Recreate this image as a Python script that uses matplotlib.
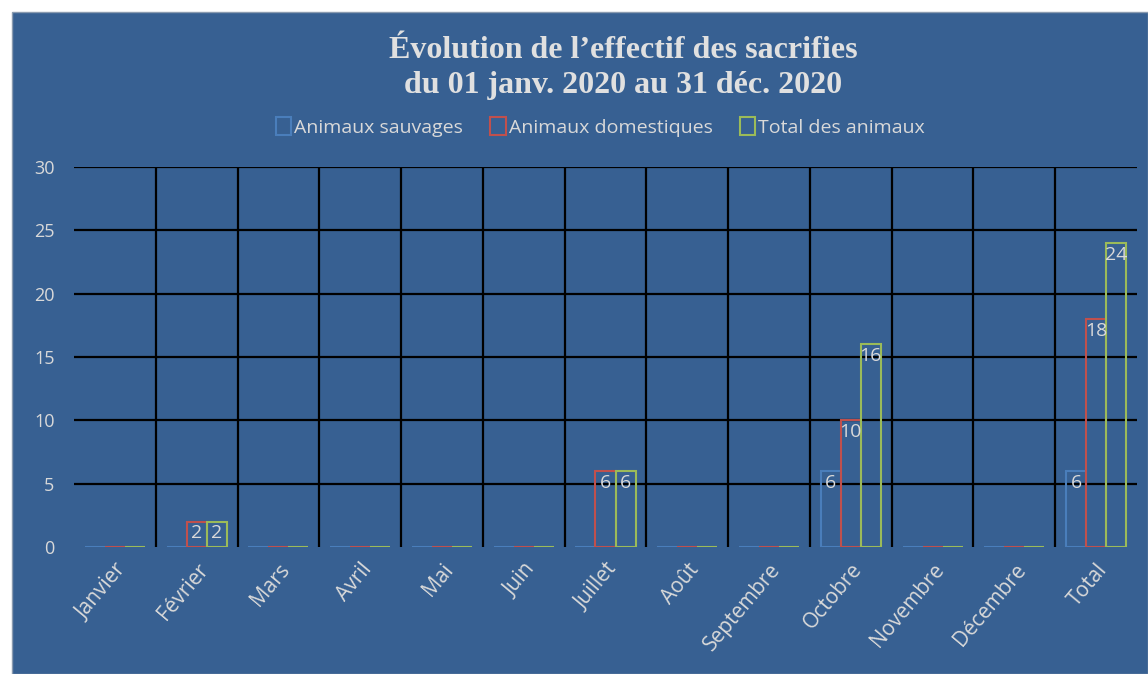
import matplotlib
matplotlib.use("Agg")
import numpy as np
from matplotlib import pyplot as plt
from matplotlib.patches import Patch, Rectangle

# Data
mois = ["Janvier", "Février", "Mars", "Avril", "Mai", "Juin", "Juillet",
        "Août", "Septembre", "Octobre", "Novembre", "Décembre", "Total"]
sauvages = [0, 0, 0, 0, 0, 0, 0, 0, 0, 6, 0, 0, 6]
domestiques = [0, 2, 0, 0, 0, 0, 6, 0, 0, 10, 0, 0, 18]
total = [0, 2, 0, 0, 0, 0, 6, 0, 0, 16, 0, 0, 24]
series_names = ["Animaux sauvages", "Animaux domestiques", "Total des animaux"]

bg = "#376092"
txt = "#d9d9d9"
colors = ["#4a7ebb", "#c0504d", "#9bbb59"]

fig = plt.figure(figsize=(11.48, 6.74), dpi=100, facecolor="white")
# blue chart area with small white margin top/left
fig.add_artist(Rectangle((12 / 1148, 0), 1 - 12 / 1148, 1 - 12 / 674,
                         transform=fig.transFigure, facecolor=bg,
                         edgecolor="#8a9bb0", linewidth=1, zorder=0))

ax = fig.add_axes([74 / 1148, 1 - 547 / 674, (1137 - 74) / 1148, (547 - 167) / 674])
ax.set_facecolor("none")

x = np.arange(len(mois))
w = 0.245
for i, (vals, c) in enumerate(zip([sauvages, domestiques, total], colors)):
    pos = x + (i - 1) * w
    bars = ax.bar(pos, vals, width=w, facecolor="none", edgecolor=c, linewidth=1.5, zorder=3)
    for b, v in zip(bars, vals):
        if v > 0:
            ax.annotate(str(v), (b.get_x() + b.get_width() / 2, v), xytext=(0, -2),
                        textcoords="offset points", ha="center", va="top",
                        color=txt, fontsize=14, family="Open Sans", zorder=4)

ax.set_xlim(-0.5, len(mois) - 0.5)
ax.set_ylim(0, 30)
ax.set_yticks(range(0, 31, 5))
for yv in range(5, 31, 5):
    ax.axhline(yv, color="black", linewidth=1.6, zorder=1)
for xv in x[:-1] + 0.5:
    ax.axvline(xv, color="black", linewidth=1.6, zorder=1)

for s in ax.spines.values():
    s.set_visible(False)
ax.tick_params(length=0, colors=txt, labelsize=13, pad=14)
ax.set_xticks(x)
ax.set_xticklabels(mois, rotation=50, ha="right", rotation_mode="anchor",
                   family="Open Sans", fontsize=15)
for lab in ax.get_yticklabels():
    lab.set_family("Open Sans")
ax.tick_params(axis="x", pad=9)

fig.text(0.543, 1 - 50 / 674, "Évolution de l’effectif des sacrifies", ha="center", va="center",
         fontsize=23, fontweight="bold", family="Liberation Serif", color="#e0e0e0")
fig.text(0.543, 1 - 86 / 674, "du 01 janv. 2020 au 31 déc. 2020", ha="center", va="center",
         fontsize=23, fontweight="bold", family="Liberation Serif", color="#e0e0e0")

handles = [Patch(facecolor="none", edgecolor=c, linewidth=1.5) for c in colors]
leg = fig.legend(handles, series_names, loc="center", bbox_to_anchor=(0.523, 1 - 127 / 674),
                 ncol=3, frameon=False, labelcolor=txt,
                 handlelength=0.8, handleheight=1.0, handletextpad=0.15, columnspacing=1.4,
                 prop={"family": "Open Sans", "size": 14})

fig.savefig("out.png", dpi=100, facecolor="white")
